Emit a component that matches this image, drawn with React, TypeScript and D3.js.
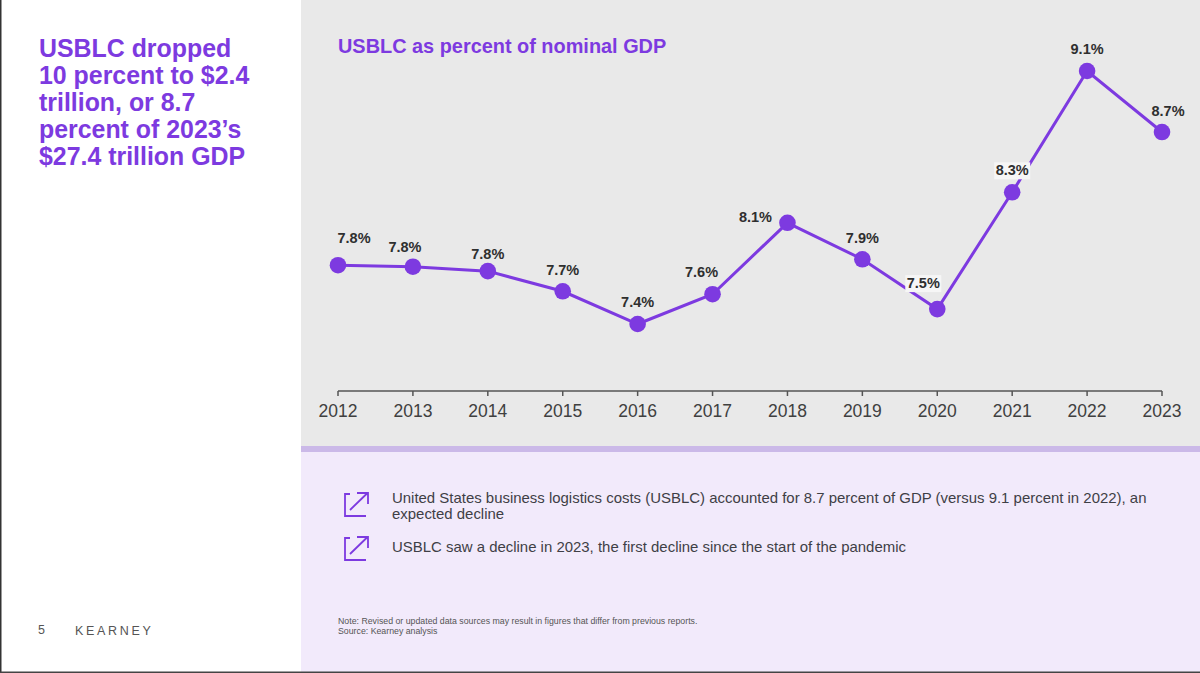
import React from "react";
import * as d3 from "d3";

const years = ["2012","2013","2014","2015","2016","2017","2018","2019","2020","2021","2022","2023"];
const values = [7.795,7.785,7.755,7.62,7.4,7.6,8.08,7.835,7.5,8.285,9.1,8.69];
const labels = ["7.8%","7.8%","7.8%","7.7%","7.4%","7.6%","8.1%","7.9%","7.5%","8.3%","9.1%","8.7%"];
const labelDx = [16,-8,0,0,0,-11,-32,0,-14,0,0,6];
const labelDy = [-22,-15,-12,-16,-17,-17,-1,-16,-21,-17,-17,-16];
const haloed = [false,false,false,false,false,false,false,false,true,true,false,false];
const headline = ["USBLC dropped","10 percent to $2.4","trillion, or 8.7","percent of 2023’s","$27.4 trillion GDP"];
const chartTitle = "USBLC as percent of nominal GDP";
const bullets = [
  ["United States business logistics costs (USBLC) accounted for 8.7 percent of GDP (versus 9.1 percent in 2022), an","expected decline"],
  ["USBLC saw a decline in 2023, the first decline since the start of the pandemic"],
];
const bulletY = [505, 549];
const notes = ["Note: Revised or updated data sources may result in figures that differ from previous reports.","Source: Kearney analysis"];

const PURPLE = "#7d3ae0";
const FONT = "'Liberation Sans', Arial, sans-serif";

function Icon({ x, y }: { x: number; y: number }) {
  return (
    <g transform={`translate(${x},${y})`} fill="none" stroke={PURPLE} strokeWidth={1.8}>
      <path d="M7 -11 H2 V11 H23" />
      <path d="M7 5 L24 -11.5 M14 -12 H25 V-1" />
    </g>
  );
}

export default function App() {
  const x = d3.scalePoint<string>().domain(years).range([338, 1162]);
  const y = d3.scaleLinear().domain([7.4, 9.1]).range([324, 71]);
  const line = d3.line<number>().x((_, i) => x(years[i])!).y((d) => y(d));
  return (
    <svg width={1200} height={673} viewBox="0 0 1200 673"
      style={{ position: "fixed", left: 0, top: 0, display: "block", fontFamily: FONT }}>
      <defs>
        <filter id="soft" x="-5%" y="-200%" width="110%" height="500%">
          <feGaussianBlur stdDeviation="0.7" />
        </filter>
      </defs>
      <rect width={1200} height={673} fill="#fff" />
      <rect x={301} y={0} width={899} height={448} fill="#e9e9e9" />
      <rect x={301} y={448} width={899} height={225} fill="#f2eafb" />
      <rect x={301} y={446} width={899} height={6} fill="#cbb9e8" filter="url(#soft)" />
      <rect x={0} y={0} width={1.5} height={673} fill="#333" />
      <rect x={0} y={671.5} width={1200} height={1.5} fill="#444" />

      <g fill={PURPLE} fontSize={24.9} fontWeight={700}>
        {headline.map((t, i) => (
          <text key={i} x={39} y={57 + i * 27}>{t}</text>
        ))}
      </g>
      <text x={338} y={53} fill={PURPLE} fontSize={19.9} fontWeight={700}>{chartTitle}</text>

      <g stroke="#555" strokeWidth={1.5} fill="none">
        <path d={`M${x(years[0])} 391 H${x(years[years.length - 1])}`} />
        {years.map((yr) => (
          <path key={yr} d={`M${x(yr)} 391 V396`} />
        ))}
      </g>
      <g fill="#404040" fontSize={17.5} textAnchor="middle">
        {years.map((yr) => (
          <text key={yr} x={x(yr)} y={417}>{yr}</text>
        ))}
      </g>

      <path d={line(values)!} fill="none" stroke={PURPLE} strokeWidth={3} />
      {years.map((yr, i) => {
        const lx = x(yr)! + labelDx[i];
        const ly = y(values[i]) + labelDy[i];
        return (
          <g key={yr}>
            {haloed[i] && <rect x={lx - 18} y={ly - 13} width={36} height={17} fill="#f6f6f6" />}
            <circle cx={x(yr)} cy={y(values[i])} r={8.3} fill={PURPLE} />
            <text x={lx} y={ly} textAnchor="middle" fontSize={14.5} fontWeight={700} fill="#2f2f2f">{labels[i]}</text>
          </g>
        );
      })}

      {bulletY.map((by, i) => <Icon key={i} x={343} y={by} />)}
      <g fill="#3f3f46" fontSize={14.95}>
        <text x={392} y={503}>{bullets[0][0]}</text>
        <text x={392} y={519}>{bullets[0][1]}</text>
        <text x={392} y={552}>{bullets[1][0]}</text>
      </g>
      <g fill="#555" fontSize={8.77}>
        <text x={338} y={624}>{notes[0]}</text>
        <text x={338} y={634}>{notes[1]}</text>
      </g>
      <text x={38} y={634} fill="#555" fontSize={12.5}>5</text>
      <text x={75} y={634.5} fill="#555" fontSize={12.5} letterSpacing={2.7}>KEARNEY</text>
    </svg>
  );
}
